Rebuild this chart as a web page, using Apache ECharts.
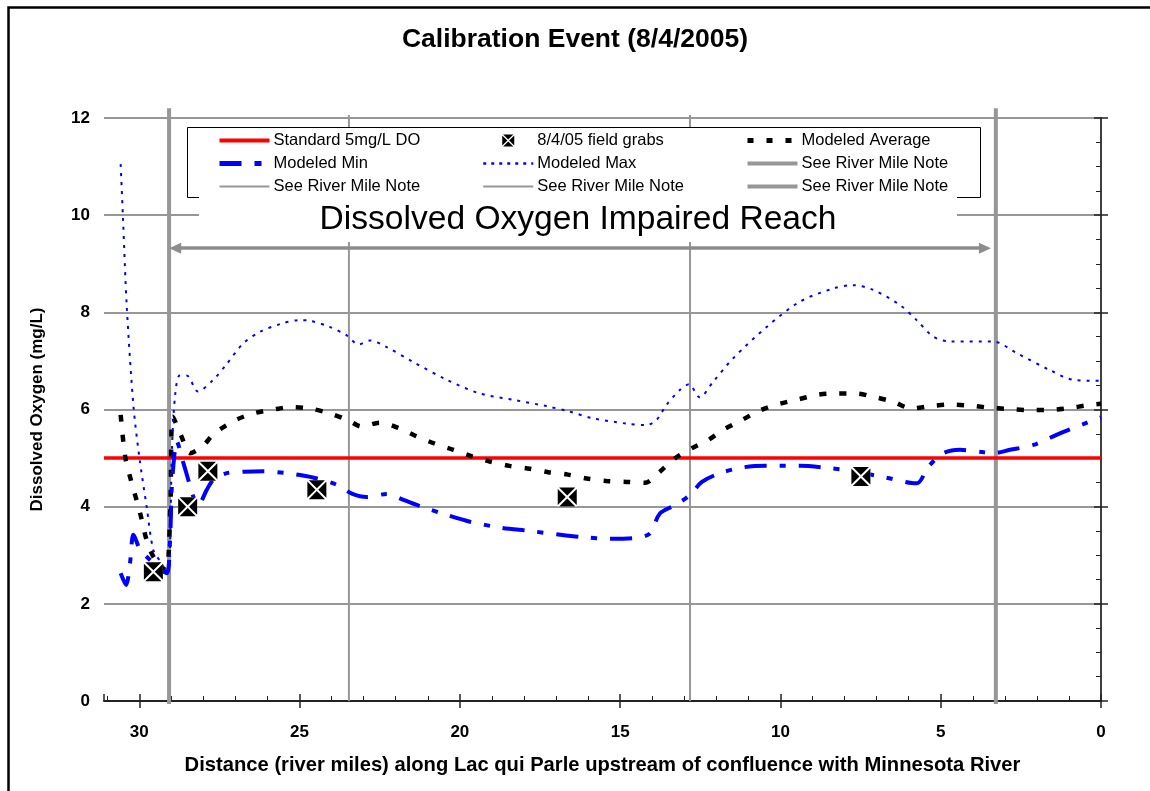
<!DOCTYPE html>
<html>
<head>
<meta charset="utf-8">
<title>Calibration Event (8/4/2005)</title>
<script src="https://cdn.jsdelivr.net/npm/echarts@6/dist/echarts.min.js"></script>
<style>
  html, body { margin: 0; padding: 0; background: #fff; }
  #chart { width: 1150px; height: 791px; }
</style>
</head>
<body>
<div id="chart"></div>
<script>
// River miles (upstream of the Minnesota River confluence) and dissolved oxygen, mg/L
const milesMax = [30.58, 30.51, 30.39, 30.18, 30.0, 29.77, 29.56, 29.3, 29.14, 29.06, 28.98, 28.88, 28.74, 28.52, 28.17, 27.71, 27.29, 26.76, 26.23, 25.6, 25.0, 24.7, 24.06, 23.54, 23.16, 22.8, 22.3, 21.46, 20.4, 19.38, 18.34, 17.3, 16.6, 15.85, 14.8, 14.18, 13.87, 13.56, 13.14, 12.85, 12.52, 12.1, 11.48, 10.43, 9.39, 8.35, 7.73, 7.1, 6.27, 5.75, 5.23, 4.71, 3.36, 2.63, 1.59, 0.86, 0.0];
const doMax = [11.05, 9.97, 8.12, 6.06, 5.03, 4.0, 3.11, 2.83, 2.63, 2.7, 5.2, 6.3, 6.7, 6.7, 6.37, 6.6, 6.92, 7.36, 7.6, 7.76, 7.84, 7.83, 7.7, 7.53, 7.34, 7.42, 7.29, 6.98, 6.61, 6.33, 6.2, 6.07, 5.96, 5.82, 5.71, 5.68, 5.78, 6.09, 6.4, 6.52, 6.25, 6.57, 7.05, 7.7, 8.22, 8.49, 8.56, 8.46, 8.15, 7.84, 7.5, 7.4, 7.4, 7.16, 6.81, 6.61, 6.59];

const milesAvg = [30.58, 30.44, 30.29, 29.97, 29.77, 29.56, 29.3, 29.15, 29.03, 28.95, 28.68, 28.42, 28.05, 27.65, 27.0, 26.44, 25.82, 25.24, 24.68, 24.06, 23.48, 23.07, 22.5, 21.88, 21.36, 20.79, 20.2, 19.64, 19.07, 18.45, 17.82, 17.25, 16.63, 16.05, 15.43, 14.8, 14.23, 13.76, 13.3, 12.77, 12.26, 11.79, 11.21, 10.64, 10.07, 9.5, 8.87, 8.25, 7.63, 7.1, 6.48, 5.91, 5.34, 4.71, 4.09, 3.52, 2.89, 2.27, 1.69, 1.07, 0.4, 0.0];
const doAvg = [5.89, 5.03, 4.62, 3.86, 3.31, 2.97, 2.76, 2.68, 4.0, 5.85, 5.44, 5.1, 5.23, 5.51, 5.78, 5.92, 6.0, 6.05, 6.02, 5.92, 5.78, 5.65, 5.73, 5.61, 5.45, 5.3, 5.17, 5.04, 4.93, 4.84, 4.78, 4.71, 4.66, 4.58, 4.53, 4.51, 4.49, 4.72, 4.99, 5.2, 5.37, 5.58, 5.78, 5.98, 6.11, 6.2, 6.3, 6.33, 6.33, 6.26, 6.16, 6.02, 6.07, 6.1, 6.08, 6.04, 6.01, 5.99, 5.99, 6.02, 6.09, 6.12];

const milesMin = [30.58, 30.41, 30.29, 30.18, 29.97, 29.66, 29.35, 29.14, 29.04, 28.99, 28.91, 28.84, 28.62, 28.47, 28.31, 28.16, 27.9, 27.69, 27.27, 26.75, 26.13, 25.4, 24.98, 24.46, 23.84, 23.37, 22.9, 22.28, 21.76, 21.24, 20.41, 19.68, 18.75, 17.82, 16.98, 16.15, 15.32, 14.48, 14.07, 13.76, 13.29, 12.82, 12.45, 11.88, 11.16, 10.43, 9.39, 8.45, 7.83, 6.79, 5.75, 5.39, 4.92, 4.4, 3.77, 3.36, 2.84, 2.11, 1.28, 0.55, 0.0];
const doMin = [2.63, 2.39, 2.83, 3.42, 3.11, 2.9, 2.7, 2.63, 3.31, 4.34, 5.03, 5.35, 4.89, 4.55, 4.2, 4.03, 4.34, 4.55, 4.69, 4.72, 4.73, 4.69, 4.65, 4.58, 4.45, 4.27, 4.2, 4.26, 4.14, 4.01, 3.83, 3.69, 3.57, 3.5, 3.43, 3.37, 3.34, 3.36, 3.45, 3.86, 4.03, 4.24, 4.51, 4.69, 4.81, 4.84, 4.84, 4.79, 4.74, 4.61, 4.48, 4.82, 5.1, 5.17, 5.13, 5.1, 5.17, 5.27, 5.51, 5.7, 5.84];

// Field grab samples, 8/4/05
const grabMiles = [29.56, 28.49, 27.86, 24.46, 16.65, 7.49];
const grabDO = [2.66, 4.0, 4.73, 4.35, 4.2, 4.62];

// 5 mg/L dissolved oxygen standard, drawn across the whole reach
const standardMiles = [31.1, 0];
const standardDO = [5, 5];

// River mile note markers: [mile, bottom, top]
const noteThick = [[29.07, -0.06, 12.2], [3.28, -0.06, 12.2]];
const noteThin = [[23.46, 0, 12.06], [12.82, 0, 12.06]];

// Impaired reach arrow: end points (arrowheads centred on them) and height on the DO scale
const reachMiles = [28.88, 3.62];
const reachDO = 9.32;

// Axis tick values
const xTicks = [0, 5, 10, 15, 20, 25, 30];
const yTicks = [0, 2, 4, 6, 8, 10, 12];

const FONT = "'Liberation Sans', Arial, Helvetica, sans-serif";
const GRID_GRAY = '#979797';

const pairs = (xs, ys) => xs.map((x, i) => [x, ys[i]]);
const vline = (m) => [[m[0], m[1]], [m[0], m[2]]];

// Black box with a white X: four triangles left over when the X is cut out of the square
const grabSymbol = 'path://M0.75,0L9.25,0L5,4.25ZM10,0.75L10,9.25L5.75,5ZM9.25,10L0.75,10L5,5.75ZM0,9.25L0,0.75L4.25,5Z';

const noteNames = ['See River Mile Note #1', 'See River Mile Note #2', 'See River Mile Note #3', 'See River Mile Note #4'];

// legend line samples, drawn a little heavier than the plotted lines like the sheet's key
const key = (name, lineStyle) => (lineStyle ? { name: name, lineStyle: lineStyle } : { name: name });

const chart = echarts.init(document.getElementById('chart'), null, { renderer: 'canvas' });

const legendCommon = {
  orient: 'vertical',
  top: 127,
  itemWidth: 50,
  itemHeight: 12,
  itemGap: 6,
  selectedMode: false,
  z: 20,
  textStyle: { fontFamily: FONT, fontSize: 16.5, color: '#000', padding: [0, 0, 0, -1] },
  formatter: (name) => name.replace(/\s#\d$/, '')
};

// line series: hide the point symbol that the legend would otherwise draw over the line
const noMarker = (color) => ({ color: color, opacity: 0 });

const option = {
  backgroundColor: '#fff',
  animation: false,
  title: {
    text: 'Calibration Event (8/4/2005)',
    left: 'center',
    top: 21,
    textStyle: { fontFamily: FONT, fontSize: 26.5, fontWeight: 'bold', color: '#000' }
  },
  legend: [
    Object.assign({}, legendCommon, {
      left: 212,
      data: [
        key('Standard 5mg/L DO', { width: 4 }),
        key('Modeled Min', { width: 5, type: [22, 13, 7, 13] }),
        key(noteNames[1], { width: 2 })
      ]
    }),
    Object.assign({}, legendCommon, {
      left: 477,
      data: [
        key('8/4/05 field grabs'),
        key('Modeled Max', { width: 2.5, type: [3, 5] }),
        key(noteNames[2], { width: 2 })
      ]
    }),
    Object.assign({}, legendCommon, {
      left: 740,
      data: [
        key('Modeled Average', { width: 5, type: [6, 13] }),
        key(noteNames[0], { width: 4 }),
        key(noteNames[3], { width: 4 })
      ]
    })
  ],
  grid: { left: 104, right: 49, top: 118, bottom: 90, containLabel: false },
  xAxis: [
    {
      type: 'value', inverse: true, min: 0, max: 31.1, interval: 5, position: 'bottom',
      name: 'Distance (river miles) along Lac qui Parle upstream of confluence with Minnesota River',
      nameLocation: 'middle', nameGap: 54,
      nameTextStyle: { fontFamily: FONT, fontSize: 20.2, fontWeight: 'bold', color: '#000' },
      axisLine: { show: true, lineStyle: { color: '#222', width: 2 } },
      axisTick: { show: true, inside: false, length: 7, lineStyle: { color: '#222', width: 1.5 } },
      axisLabel: {
        margin: 23, fontFamily: FONT, fontSize: 17, fontWeight: 'bold', color: '#000',
        showMaxLabel: false,
        formatter: (v) => (xTicks.indexOf(v) >= 0 ? String(v) : '')
      },
      splitLine: { show: false }
    },
    {
      type: 'value', inverse: true, min: 0, max: 31.1, interval: 5, position: 'bottom',
      axisLine: { show: false },
      axisTick: { show: true, inside: true, length: 7, lineStyle: { color: '#222', width: 1.5 } },
      minorTick: { show: true, splitNumber: 5, length: 5, lineStyle: { color: '#222', width: 1 } },
      axisLabel: { show: false },
      splitLine: { show: false }
    }
  ],
  yAxis: [
    {
      type: 'value', min: 0, max: 12, interval: 2, position: 'left',
      name: 'Dissolved Oxygen (mg/L)', nameLocation: 'middle', nameGap: 58,
      nameTextStyle: { fontFamily: FONT, fontSize: 17, fontWeight: 'bold', color: '#000' },
      axisLine: { show: true, lineStyle: { color: GRID_GRAY, width: 2 } },
      axisTick: { show: false },
      axisLabel: {
        margin: 14, fontFamily: FONT, fontSize: 17, fontWeight: 'bold', color: '#000',
        formatter: (v) => (yTicks.indexOf(v) >= 0 ? String(v) : '')
      },
      splitLine: { show: true, lineStyle: { color: GRID_GRAY, width: 2 } }
    },
    {
      type: 'value', min: 0, max: 12, interval: 2, position: 'right',
      axisLine: { show: true, onZero: false, lineStyle: { color: '#222', width: 1.5 } },
      axisTick: { show: true, inside: false, length: 7, lineStyle: { color: '#222', width: 1.5 } },
      axisLabel: { show: false },
      splitLine: { show: false }
    },
    {
      type: 'value', min: 0, max: 12, interval: 2, position: 'right',
      axisLine: { show: false },
      axisTick: { show: true, inside: true, length: 7, lineStyle: { color: '#222', width: 1.5 } },
      minorTick: { show: true, splitNumber: 4, length: 5, lineStyle: { color: '#222', width: 1 } },
      axisLabel: { show: false },
      splitLine: { show: false }
    }
  ],
  graphic: {
    elements: [
      // outer chart frame
      { type: 'rect', left: 6, top: 5, shape: { width: 1300, height: 900 }, style: { fill: 'none', stroke: '#000', lineWidth: 2.5 }, z: 30, silent: true },
      // legend box
      { type: 'rect', left: 187, top: 127, shape: { width: 793, height: 70 }, style: { fill: '#fff', stroke: '#000', lineWidth: 1 }, z: 10, silent: true },
      // banner behind the reach label
      { type: 'rect', left: 199, top: 196, shape: { width: 758, height: 46 }, style: { fill: '#fff', stroke: null }, z: 11, silent: true },
      {
        type: 'text', x: 578, y: 220, z: 12, silent: true,
        style: {
          text: 'Dissolved Oxygen Impaired Reach', fill: '#000',
          font: "33.6px 'Liberation Sans', Arial, sans-serif", align: 'center', verticalAlign: 'middle'
        }
      }
    ]
  },
  series: [
    {
      name: noteNames[0], type: 'line', data: vline(noteThick[0]), symbol: 'none', clip: false,
      lineStyle: { color: GRID_GRAY, width: 4 }, itemStyle: noMarker(GRID_GRAY), silent: true
    },
    {
      name: noteNames[3], type: 'line', data: vline(noteThick[1]), symbol: 'none', clip: false,
      lineStyle: { color: GRID_GRAY, width: 4 }, itemStyle: noMarker(GRID_GRAY), silent: true
    },
    {
      name: noteNames[1], type: 'line', data: vline(noteThin[0]), symbol: 'none', clip: false,
      lineStyle: { color: GRID_GRAY, width: 2 }, itemStyle: noMarker(GRID_GRAY), silent: true
    },
    {
      name: noteNames[2], type: 'line', data: vline(noteThin[1]), symbol: 'none', clip: false,
      lineStyle: { color: GRID_GRAY, width: 2 }, itemStyle: noMarker(GRID_GRAY), silent: true
    },
    {
      name: 'Standard 5mg/L DO', type: 'line', data: pairs(standardMiles, standardDO), symbol: 'none',
      lineStyle: { color: '#ff0000', width: 3.5 }, itemStyle: noMarker('#ff0000'), silent: true,
      markLine: {
        silent: true,
        symbol: ['triangle', 'triangle'],
        symbolSize: [11, 12],
        label: { show: false },
        itemStyle: { opacity: 1 },
        lineStyle: { color: '#8c8c8c', width: 3.5, type: 'solid', opacity: 1 },
        data: [[{ coord: [reachMiles[0], reachDO] }, { coord: [reachMiles[1], reachDO] }]]
      }
    },
    {
      name: 'Modeled Average', type: 'line', data: pairs(milesAvg, doAvg), symbol: 'none', smooth: 0.3,
      lineStyle: { color: '#000', width: 4.5, type: [7, 13] }, itemStyle: noMarker('#000'), silent: true
    },
    {
      name: 'Modeled Min', type: 'line', data: pairs(milesMin, doMin), symbol: 'none', smooth: 0.3,
      lineStyle: { color: '#0000ff', width: 4, type: [22, 13, 6, 13] }, itemStyle: noMarker('#0000ff'), silent: true
    },
    {
      name: 'Modeled Max', type: 'line', data: pairs(milesMax, doMax), symbol: 'none', smooth: 0.3,
      lineStyle: { color: '#0000ff', width: 2, type: [3, 6] }, itemStyle: noMarker('#0000ff'), silent: true
    },
    {
      name: 'grab backing', type: 'scatter', data: pairs(grabMiles, grabDO), symbol: 'rect', symbolSize: 19,
      itemStyle: { color: '#fff', opacity: 1 }, silent: true, z: 3
    },
    {
      name: '8/4/05 field grabs', type: 'scatter', data: pairs(grabMiles, grabDO), symbol: grabSymbol, symbolSize: 19,
      itemStyle: { color: '#000', opacity: 1 }, silent: true, z: 4
    }
  ]
};

chart.setOption(option);
</script>
</body>
</html>
